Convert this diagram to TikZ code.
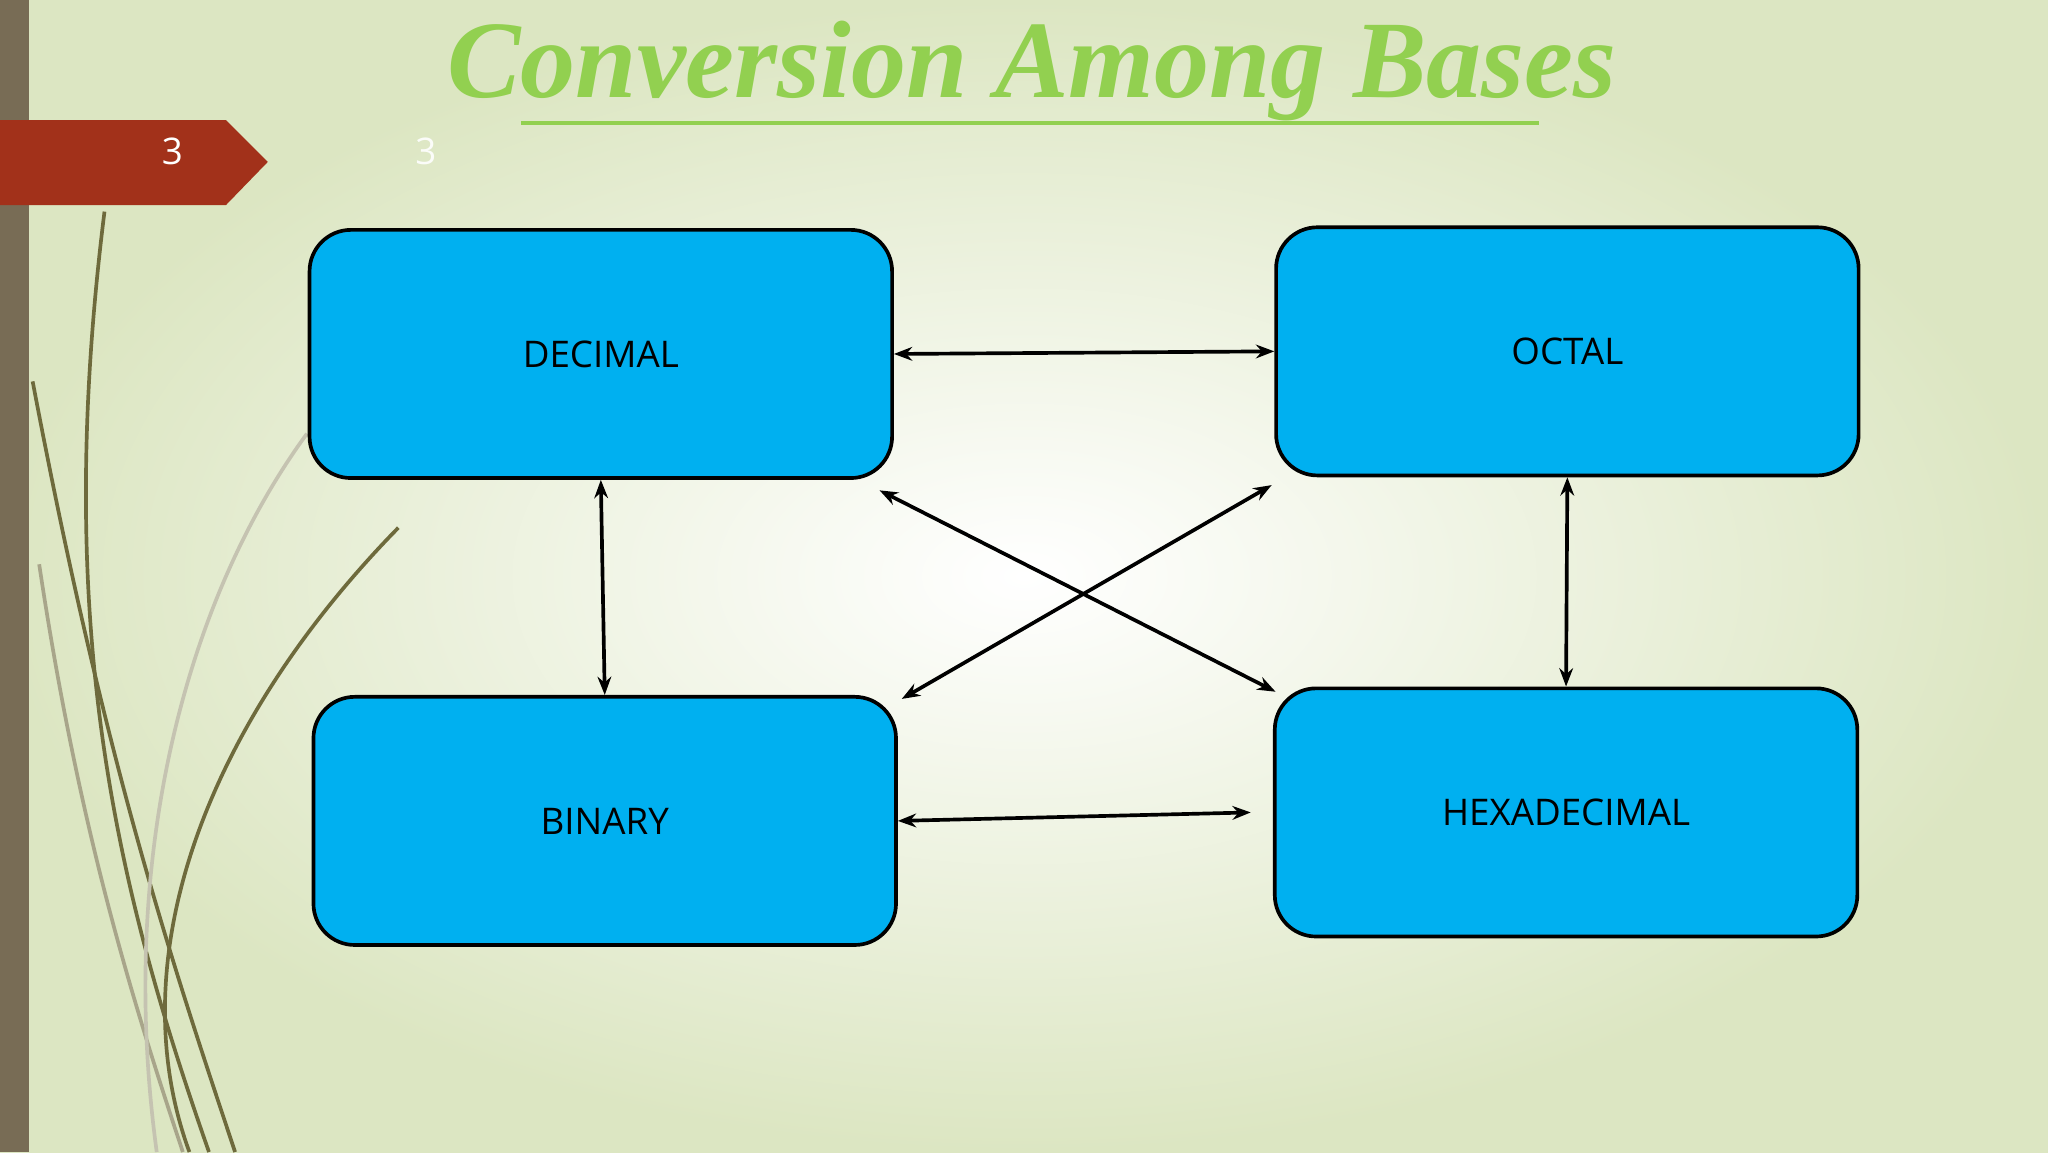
\documentclass[tikz,border=0pt]{standalone}
\usepackage{fontspec}
\setmainfont{Open Sans}
\newfontfamily\titlefont{Liberation Serif}
\usetikzlibrary{arrows.meta, positioning, calc, shadings}
\definecolor{boxblue}{HTML}{00B0F0}
\definecolor{titlegreen}{HTML}{92D050}
\definecolor{tabred}{HTML}{A2311A}
\definecolor{barolive}{HTML}{786C55}
\definecolor{bgouter}{HTML}{DCE6C2}
\definecolor{grassgreen}{HTML}{6E6A3C}
\begin{document}
\begin{tikzpicture}[
    base/.style={rectangle, rounded corners=9pt, draw=black, thick, fill=boxblue, minimum width=44.6mm, minimum height=19mm, font=\fontsize{8}{10}\selectfont, align=center},
    link/.style={{Stealth[length=1.4mm]}-{Stealth[length=1.4mm]}, thick}
]

% Background
\shade[inner color=white, outer color=bgouter] (0,0) rectangle (15.68,8.82);
\useasboundingbox (0,0) rectangle (15.68,8.82);
\fill[barolive] (0,0) rectangle (0.22,8.82);

% Grass
\draw[grassgreen, thick] (0.25,5.9) .. controls (0.8,3) and (1.3,1.5) .. (1.8,0);
\draw[grassgreen, thick] (0.8,7.2) .. controls (0.4,4) and (0.9,2) .. (1.6,0);
\draw[grassgreen!60, thick] (0.3,4.5) .. controls (0.6,2.5) and (1.0,1.2) .. (1.4,0);
\draw[grassgreen, thick] (3.05,4.78) .. controls (1.6,3.3) and (0.9,1.5) .. (1.45,0);
\draw[grassgreen!40, thick] (2.35,5.5) .. controls (1.4,4.2) and (0.9,2.2) .. (1.2,0);

% Tab
\fill[tabred] (0,7.9) -- (1.73,7.9) -- (2.05,7.58) -- (1.73,7.25) -- (0,7.25) -- cycle;
\node[text=white, font=\fontsize{8}{10}\selectfont] (pagenum) at (1.32,7.66) {3};
\node[text=white!90!bgouter, font=\fontsize{8}{10}\selectfont] (pagenumb) at (3.26,7.66) {3};

% Title
\node[font=\titlefont\fontsize{24}{28}\selectfont\bfseries\itshape, text=titlegreen] (title) at (7.9,8.28) {Conversion Among Bases};
\draw[titlegreen, thick] (3.99,7.88) -- (11.78,7.88);

% Bases
\node[base] (decimal) at (4.60,6.11) {DECIMAL};
\node[base] (octal) at (12.00,6.13) {OCTAL};
\node[base] (binary) at (4.63,2.535) {BINARY};
\node[base] (hexa) at (11.99,2.60) {HEXADECIMAL};

% Links
\draw[link] (decimal.east) -- (octal.west);
\draw[link] (decimal.south) -- (binary.north);
\draw[link] (octal.south) -- (hexa.north);
\draw[link] (binary.east) -- ([xshift=-1.7mm]hexa.west);
\draw[link] ([xshift=-1.1mm,yshift=-0.8mm]decimal.south east) -- ([xshift=0.2mm,yshift=-0.4mm]hexa.north west);
\draw[link] ([xshift=-0.2mm,yshift=-0.6mm]octal.south west) -- ([xshift=0.3mm,yshift=-0.3mm]binary.north east);

\end{tikzpicture}
\end{document}
